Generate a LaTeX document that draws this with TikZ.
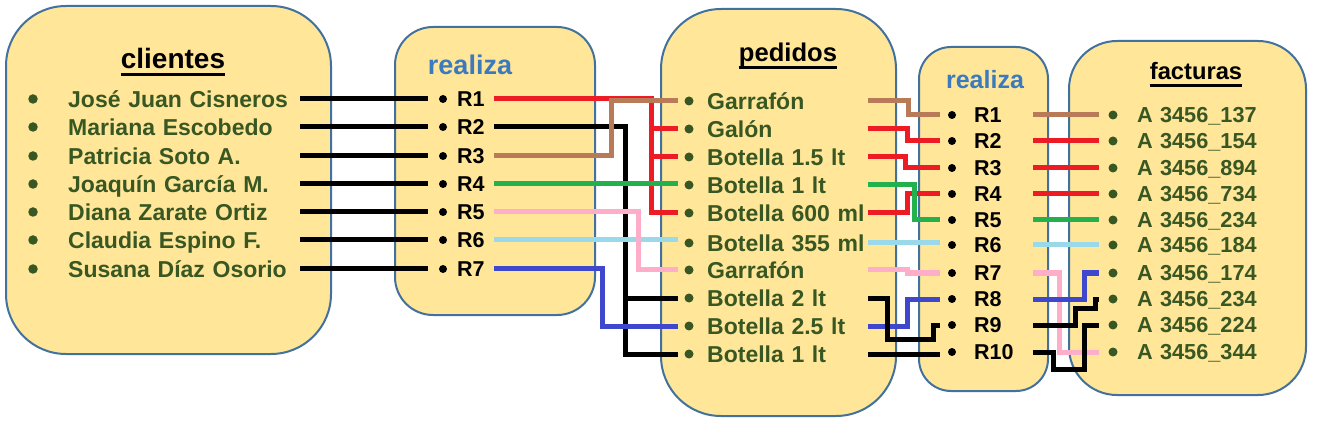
\documentclass[tikz,border=0pt]{standalone}
\usepackage{fontspec}
\setmainfont{Liberation Sans}

\definecolor{boxfill}{RGB}{255,230,153}
\definecolor{boxline}{RGB}{65,113,156}
\definecolor{itemgreen}{RGB}{56,87,35}
\definecolor{titleblue}{RGB}{59,122,191}
\definecolor{lnred}{RGB}{237,28,36}
\definecolor{lnbrown}{RGB}{185,122,87}
\definecolor{lngreen}{RGB}{34,177,76}
\definecolor{lnpink}{RGB}{255,174,201}
\definecolor{lnsky}{RGB}{153,217,234}
\definecolor{lnblue}{RGB}{63,72,204}

\tikzset{
  box/.style={draw=boxline, line width=2pt, fill=boxfill, rounded corners=#1},
  heading/.style={font=\fontsize{#1}{#1}\selectfont\bfseries, anchor=base, inner sep=0pt},
  uline/.style={text depth=5pt, append after command={(\tikzlastnode.south west) edge[draw=black, line width=3pt] (\tikzlastnode.south east)}},
  dot/.style={circle, fill=#1, inner sep=0pt, minimum size=8pt},
  entry/.style n args={4}{anchor=west, inner sep=0pt, align=left, text width=#3, text depth=0pt,
    execute at begin node={\hspace*{#1}}, label={[#4, anchor=center, xshift=#2]west:{}}},
  cli/.style={entry={48pt}{13pt}{280pt}{dot=itemgreen, minimum size=9.5pt}, text=itemgreen, text height=16.5pt, font=\fontsize{23}{27}\selectfont\bfseries},
  rea/.style={entry={29pt}{15pt}{66pt}{dot=black, minimum size=8pt}, text=black, text height=15.4pt, font=\fontsize{21.5}{26}\selectfont\bfseries},
  ped/.style={entry={29pt}{11pt}{190pt}{dot=itemgreen, minimum size=9pt}, text=itemgreen, text height=16.5pt, font=\fontsize{23}{27}\selectfont\bfseries},
  reb/.style={entry={34pt}{12pt}{93pt}{dot=black, minimum size=8pt}, text=black, text height=15.4pt, font=\fontsize{21.5}{26}\selectfont\bfseries},
  fac/.style={entry={38pt}{14pt}{191pt}{dot=itemgreen, minimum size=9pt}, text=itemgreen, text height=15.5pt, font=\fontsize{21.7}{26}\selectfont\bfseries},
  link/.style={draw=#1, line width=5pt}
}

\begin{document}
\begin{tikzpicture}[x=1pt, y=-1pt]
  \useasboundingbox (0,0) rectangle (1319,430);

  % the five boxes
  \node[box=60pt, minimum width=325pt, minimum height=348pt] (clientes) at (168.5,180) {};
  \node[box=38pt, minimum width=200pt, minimum height=288pt] (realizaA) at (495,171) {};
  \node[box=60pt, minimum width=235pt, minimum height=407pt] (pedidos) at (778.5,212.5) {};
  \node[box=32pt, minimum width=129pt, minimum height=344pt] (realizaB) at (983.5,219) {};
  \node[box=48pt, minimum width=237pt, minimum height=354pt] (facturas) at (1187.5,218) {};

  % titles
  \node[heading=28, uline] (tcli) at (173,69) {clientes};
  \node[heading=27, text=titleblue] (treA) at (470,75) {realiza};
  \node[heading=25.6, uline] (tped) at (788,62) {pedidos};
  \node[heading=25, text=titleblue] (treB) at (985,89) {realiza};
  \node[heading=23.7, uline] (tfac) at (1196,80) {facturas};

  % clientes
  \node[cli] (c1) at (20,99) {José Juan Cisneros};
  \node[cli] (c2) at (20,127) {Mariana Escobedo};
  \node[cli] (c3) at (20,156) {Patricia Soto A.};
  \node[cli] (c4) at (20,184) {Joaquín García M.};
  \node[cli] (c5) at (20,212) {Diana Zarate Ortiz};
  \node[cli] (c6) at (20,240) {Claudia Espino F.};
  \node[cli] (c7) at (20,269) {Susana Díaz Osorio};

  % realiza (clientes - pedidos)
  \node[rea] (ra1) at (428,99) {R1};
  \node[rea] (ra2) at (428,127) {R2};
  \node[rea] (ra3) at (428,156) {R3};
  \node[rea] (ra4) at (428,184) {R4};
  \node[rea] (ra5) at (428,212) {R5};
  \node[rea] (ra6) at (428,240) {R6};
  \node[rea] (ra7) at (428,269) {R7};

  % pedidos
  \node[ped] (pe1) at (678,101) {Garrafón};
  \node[ped] (pe2) at (678,129) {Galón};
  \node[ped] (pe3) at (678,157) {Botella 1.5 lt};
  \node[ped] (pe4) at (678,185) {Botella 1 lt};
  \node[ped] (pe5) at (678,213) {Botella 600 ml};
  \node[ped] (pe6) at (678,243) {Botella 355 ml};
  \node[ped] (pe7) at (678,270) {Garrafón};
  \node[ped] (pe8) at (678,298) {Botella 2 lt};
  \node[ped] (pe9) at (678,326) {Botella 2.5 lt};
  \node[ped] (pe10) at (678,354) {Botella 1 lt};

  % realiza (pedidos - facturas)
  \node[reb] (rb1) at (940,115) {R1};
  \node[reb] (rb2) at (940,141) {R2};
  \node[reb] (rb3) at (940,168) {R3};
  \node[reb] (rb4) at (940,194) {R4};
  \node[reb] (rb5) at (940,220) {R5};
  \node[reb] (rb6) at (940,245) {R6};
  \node[reb] (rb7) at (940,273) {R7};
  \node[reb] (rb8) at (940,299) {R8};
  \node[reb] (rb9) at (940,325) {R9};
  \node[reb] (rb10) at (940,352) {R10};

  % facturas
  \node[fac] (fa1) at (1099,115) {A 3456\_137};
  \node[fac] (fa2) at (1099,141) {A 3456\_154};
  \node[fac] (fa3) at (1099,168) {A 3456\_894};
  \node[fac] (fa4) at (1099,194) {A 3456\_734};
  \node[fac] (fa5) at (1099,220) {A 3456\_234};
  \node[fac] (fa6) at (1099,245) {A 3456\_184};
  \node[fac] (fa7) at (1099,273) {A 3456\_174};
  \node[fac] (fa8) at (1099,299) {A 3456\_234};
  \node[fac] (fa9) at (1099,325) {A 3456\_224};
  \node[fac] (fa10) at (1099,352) {A 3456\_344};

  % clientes -> realiza
  \draw[link=black] (c1.east) -- (ra1.west);
  \draw[link=black] (c2.east) -- (ra2.west);
  \draw[link=black] (c3.east) -- (ra3.west);
  \draw[link=black] (c4.east) -- (ra4.west);
  \draw[link=black] (c5.east) -- (ra5.west);
  \draw[link=black] (c6.east) -- (ra6.west);
  \draw[link=black] (c7.east) -- (ra7.west);

  % realiza -> pedidos
  \draw[link=black] (ra2.east) -- ++(131,0) coordinate (bj) |- (pe10.west);
  \draw[link=black] (bj |- pe8.west) -- (pe8.west);
  \draw[link=lnred] (ra1.east) -- ++(157,0) coordinate (rj) |- (pe5.west);
  \draw[link=lnred] (rj |- pe2.west) -- (pe2.west);
  \draw[link=lnred] (rj |- pe3.west) -- (pe3.west);
  \draw[link=lnbrown] (ra3.east) -- ++(117,0) |- (pe1.west);
  \draw[link=lnblue] (ra7.east) -- ++(108,0) |- (pe9.west);
  \draw[link=lngreen] (ra4.east) -- (ra4.east -| pe4.west);
  \draw[link=lnsky] (ra6.east) -- (ra6.east -| pe6.west);
  \draw[link=lnpink] (ra5.east) -- ++(144,0) |- (pe7.west);

  % pedidos -> realiza
  \draw[link=lnbrown] (pe1.east) -- ++(40,0) |- (rb1.west);
  \draw[link=lnred] (pe2.east) -- ++(39,0) |- (rb2.west);
  \draw[link=lnred] (pe3.east) -- ++(37,0) |- (rb3.west);
  \draw[link=lnred] (pe5.east) -- ++(39,0) |- (rb4.west);
  \draw[link=lngreen] (pe4.east) -- ++(46,0) |- (rb5.west);
  \draw[link=lnsky] (pe6.east) -- (pe6.east -| rb6.west);
  \draw[link=lnpink] (pe7.east) -- ++(39,0) |- (rb7.west);
  \draw[link=lnblue] (pe9.east) -- ++(39,0) |- (rb8.west);
  \draw[link=black] (pe8.east) -- ++(19,0) -- ++(0,41) -| ([xshift=-7pt]rb9.west) -- (rb9.west);
  \draw[link=black] (pe10.east) -- (pe10.east -| rb10.west);

  % realiza -> facturas
  \draw[link=lnbrown] (rb1.east) -- (fa1.west);
  \draw[link=lnred] (rb2.east) -- (fa2.west);
  \draw[link=lnred] (rb3.east) -- (fa3.west);
  \draw[link=lnred] (rb4.east) -- (fa4.west);
  \draw[link=lngreen] (rb5.east) -- (fa5.west);
  \draw[link=lnsky] (rb6.east) -- (fa6.west);
  \draw[link=lnpink] (rb7.east) -- ++(26,0) |- (fa10.west);
  \draw[link=lnblue] (rb8.east) -- ++(51,0) |- (fa7.west);
  \draw[link=black] (rb9.east) -- ++(42,0) -- ++(0,-17) -- ++(20,0) |- (fa8.west);
  \draw[link=black] (rb10.east) -- ++(20,0) -- ++(0,17) -| ([xshift=-15pt]fa9.west) -- (fa9.west);
\end{tikzpicture}
\end{document}
